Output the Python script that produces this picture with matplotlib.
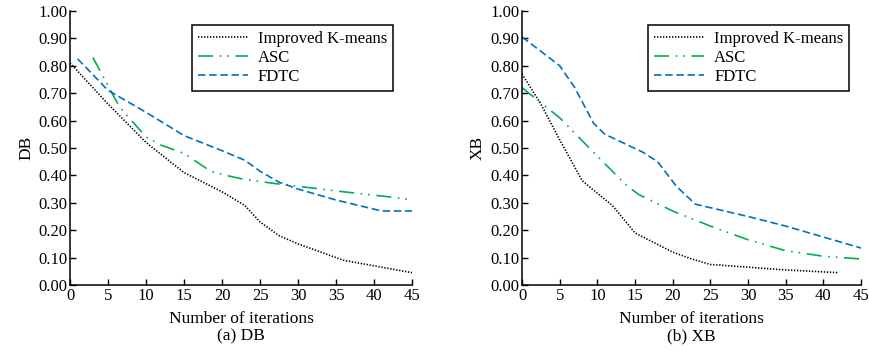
import matplotlib
matplotlib.use("Agg")
import matplotlib.pyplot as plt
from matplotlib.ticker import FormatStrFormatter

plt.rcParams['font.family'] = ['Liberation Serif', 'DejaVu Serif']

# DB panel data
db_km_x = [0, 5, 10, 15, 20, 23, 25, 27.5, 30, 36, 40, 45]
db_km_y = [0.81, 0.66, 0.52, 0.41, 0.34, 0.29, 0.23, 0.18, 0.15, 0.09, 0.07, 0.045]
db_asc_x = [3, 6.5, 10, 12, 15, 18.5, 20.5, 23, 27, 30, 36, 42.5, 45]
db_asc_y = [0.83, 0.65, 0.54, 0.51, 0.48, 0.415, 0.40, 0.385, 0.37, 0.36, 0.34, 0.32, 0.31]
db_fdtc_x = [1, 5, 10, 15, 20, 23, 25, 27.5, 30, 35, 41, 45]
db_fdtc_y = [0.825, 0.71, 0.63, 0.545, 0.49, 0.455, 0.415, 0.375, 0.35, 0.31, 0.27, 0.27]

# XB panel data
xb_km_x = [0, 2.5, 5, 8, 10, 12, 15, 20, 22.5, 25, 30, 35, 42]
xb_km_y = [0.77, 0.66, 0.53, 0.38, 0.335, 0.29, 0.19, 0.12, 0.095, 0.075, 0.065, 0.055, 0.045]
xb_asc_x = [0, 5, 10, 14, 15.5, 20, 25, 30, 35, 40, 45]
xb_asc_y = [0.72, 0.61, 0.47, 0.36, 0.33, 0.27, 0.215, 0.165, 0.125, 0.105, 0.095]
xb_fdtc_x = [0, 5, 7, 9.5, 11, 16, 18, 20.5, 23, 30, 35, 40, 45]
xb_fdtc_y = [0.905, 0.80, 0.72, 0.59, 0.55, 0.485, 0.45, 0.36, 0.295, 0.25, 0.215, 0.175, 0.135]

labels = ["Improved K-means", "ASC", "FDTC"]
xticks = list(range(0, 50, 5))
yticks = [i / 10 for i in range(11)]

GREEN = "#00B050"
BLUE = "#0070C0"

fig = plt.figure(figsize=(8.69, 3.51), dpi=100)
ax1 = fig.add_axes([0.0806, 0.1880, 0.3936, 0.781])
ax2 = fig.add_axes([0.6007, 0.1880, 0.3901, 0.781])

panels = [
    (ax1, db_km_x, db_km_y, db_asc_x, db_asc_y, db_fdtc_x, db_fdtc_y, "DB", "(a) DB", 0.944),
    (ax2, xb_km_x, xb_km_y, xb_asc_x, xb_asc_y, xb_fdtc_x, xb_fdtc_y, "XB", "(b) XB", 0.965),
]

for ax, kx, ky, ax_, ay, fx, fy, ylab, cap, lx in panels:
    ax.plot(kx, ky, color="black", lw=1.2, linestyle=(0, (0.8, 1.0)), label=labels[0])
    ax.plot(ax_, ay, color=GREEN, lw=1.2, linestyle=(0, (9, 4, 1, 3.5, 1, 4)), label=labels[1])
    ax.plot(fx, fy, color=BLUE, lw=1.2, linestyle=(0, (4.5, 2.2)), label=labels[2])
    ax.set_xlim(0, 45)
    ax.set_ylim(0, 1.0)
    ax.set_xticks(xticks)
    ax.set_yticks(yticks)
    ax.yaxis.set_major_formatter(FormatStrFormatter('%.2f'))
    ax.tick_params(direction='in', length=4, width=1, labelsize=12, pad=2)
    for s in ['top', 'right']:
        ax.spines[s].set_visible(False)
    for s in ['left', 'bottom']:
        ax.spines[s].set_linewidth(1.1)
    ax.set_ylabel(ylab, fontsize=12.5, labelpad=3)
    ax.set_xlabel("Number of iterations", fontsize=12.5, labelpad=5)
    leg = ax.legend(loc='upper right', bbox_to_anchor=(lx, 0.949), fontsize=12,
                    frameon=True, fancybox=False, edgecolor='black', framealpha=1,
                    handlelength=3.0, borderpad=0.35, labelspacing=0.18, handletextpad=0.6,
                    borderaxespad=0.0)
    leg.get_frame().set_linewidth(1.1)
    bb = ax.get_position()
    fig.text(bb.x0 + bb.width / 2, 1 - 336 / 351, cap, ha='center', va='center', fontsize=12.5)

fig.savefig("out.png", dpi=100)
